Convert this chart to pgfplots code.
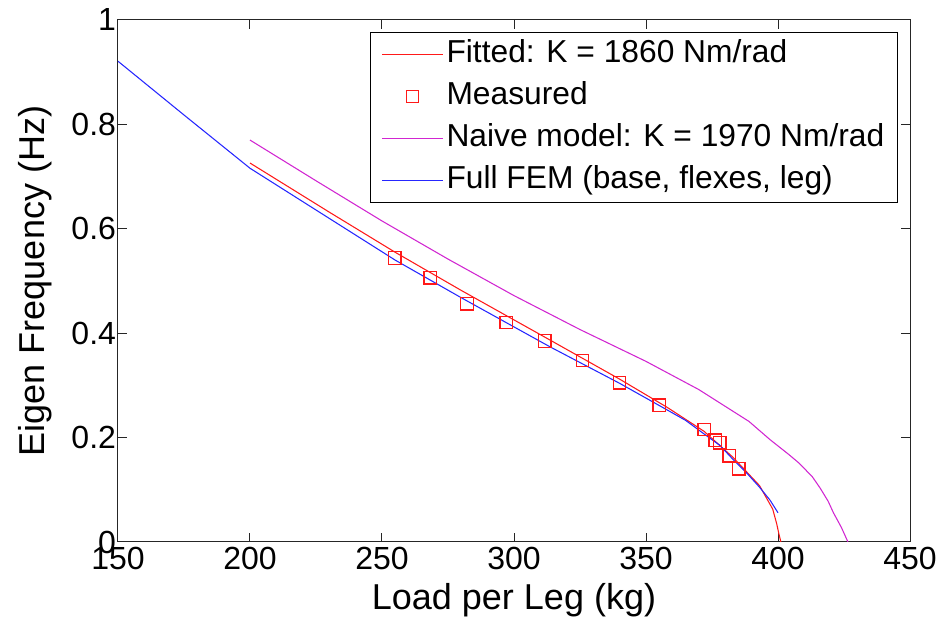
\documentclass[border=0pt]{standalone}
\usepackage{pgfplots}
\pgfplotsset{compat=1.18}
\usepackage{fontspec}
\setmainfont{Liberation Sans}
\definecolor{fitred}{rgb}{1,0.1,0.1}
\definecolor{naivemag}{rgb}{0.82,0.15,0.82}
\definecolor{femblue}{rgb}{0.15,0.15,1}
\begin{document}
\begin{tikzpicture}
\begin{axis}[
  at={(0,0)}, anchor=south west,
  scale only axis, width=594pt, height=391.5pt,
  xmin=150, xmax=450, ymin=0, ymax=1,
  xtick={150,200,250,300,350,400,450},
  ytick={0,0.2,0.4,0.6,0.8,1},
  tick align=inside, major tick length=6.75pt,
  axis line style={line width=0.75pt, black!85},
  every tick/.style={line width=0.75pt, black!85},
  /pgf/number format/assume math mode=true,
  ticklabel style={font=\fontsize{24}{28}\selectfont},
  yticklabel style={xshift=2pt},
  xlabel={Load per Leg (kg)},
  ylabel={Eigen Frequency (Hz)},
  xlabel style={font=\fontsize{27}{32}\selectfont, at={(axis description cs:0.5,-0.1284)}, anchor=base},
  ylabel style={font=\fontsize{27}{32}\selectfont, at={(axis description cs:-0.0934,0.5)}, anchor=base},
  legend image code/.code={\draw[mark repeat=2,mark phase=2] plot coordinates {(0pt,0pt) (23pt,0pt) (46pt,0pt)};},
  legend style={at={(rel axis cs:0.985,0.977)}, anchor=north east,
    font=\fontsize{23.8}{28}\selectfont, draw=black, line width=0.75pt,
    inner xsep=8pt, inner ysep=3.5pt, row sep=5.5pt,
    nodes={inner sep=2pt, text height=17pt, text depth=5pt}},
  legend cell align=left,
]
\addplot[color=fitred, line width=0.8pt] coordinates {
(200,0.726) (230,0.632) (255,0.555) (280,0.482) (313.6,0.387) (340,0.312)
(358,0.258) (372,0.212) (383,0.162) (393,0.108) (398,0.063) (399.5,0.035)
(400.5,0.012) (401.1,0)
};
\addlegendentry{Fitted: K = 1860 Nm/rad}
\addplot[color=fitred, only marks, mark=square, mark size=4.6pt, mark options={line width=0.9pt}] coordinates {
(254.9,0.544) (268.2,0.506) (282.2,0.456) (297,0.420) (311.7,0.385)
(326,0.348) (340,0.305) (355,0.262) (372,0.216) (376.2,0.195)
(378,0.190) (381.5,0.165) (385.2,0.140)
};
\addlegendentry{Measured}
\addplot[color=naivemag, line width=0.8pt] coordinates {
(200,0.770) (225,0.692) (250,0.615) (275,0.542) (300,0.472) (325,0.407)
(350,0.346) (370,0.292) (389,0.231) (397,0.196) (404,0.168) (408,0.151)
(413,0.125) (416,0.103) (419,0.078) (421,0.056) (424,0.028) (426.5,0)
};
\addlegendentry{Naive model: K = 1970 Nm/rad}
\addplot[color=femblue, line width=0.8pt] coordinates {
(150,0.921) (175,0.818) (200,0.716) (225,0.636) (255,0.540) (280,0.468)
(313.6,0.374) (340,0.304) (358,0.253) (365,0.233) (372,0.207) (378,0.185)
(383,0.158) (388,0.133) (393,0.105) (397,0.080) (400,0.056)
};
\addlegendentry{Full FEM (base, flexes, leg)}
\end{axis}
\pgfresetboundingbox
\path (-88.5pt,-60.75pt) rectangle (624pt,406.5pt);
\end{tikzpicture}
\end{document}
